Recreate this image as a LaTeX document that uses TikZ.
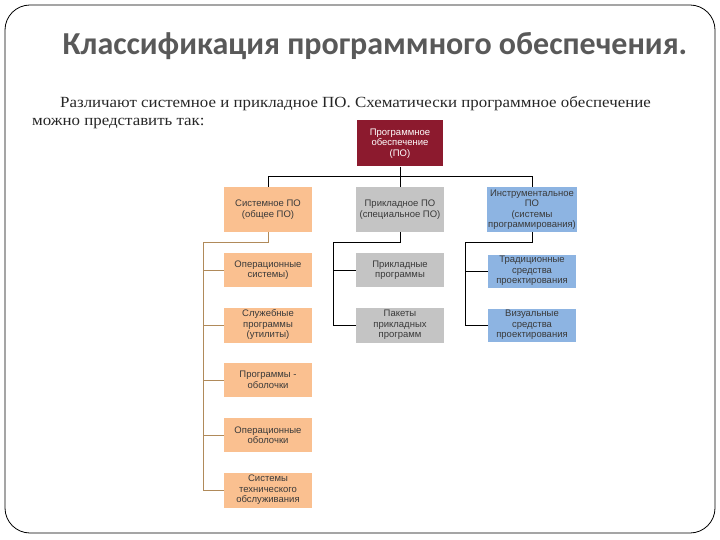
\documentclass[tikz,border=0pt]{standalone}
\usepackage{fontspec}
\setmainfont[FakeStretch=1.09]{Liberation Serif}
\newfontfamily\titlefont{Carlito}
\newfontfamily\boxfont{Liberation Sans}
\definecolor{rootred}{HTML}{8C1A2E}
\definecolor{orangebox}{HTML}{FAC090}
\definecolor{graybox}{HTML}{C4C4C4}
\definecolor{bluebox}{HTML}{8DB4E2}
\definecolor{tanline}{HTML}{B08A5A}
\definecolor{titlegray}{HTML}{595959}
\definecolor{boxtext}{HTML}{3A3A3A}
\tikzset{
  box/.style={rectangle, minimum width=88pt, inner sep=1pt, align=center,
    font=\boxfont\fontsize{9.5}{10.5}\selectfont, text=boxtext},
  rootbox/.style={box, fill=rootred, text=white, minimum height=46pt, minimum width=86pt},
  orangebx/.style={box, fill=orangebox},
  graybx/.style={box, fill=graybox},
  bluebx/.style={box, fill=bluebox},
  conn/.style={draw=black, line width=0.9pt},
  tconn/.style={draw=tanline, line width=0.9pt}
}
\begin{document}
\begin{tikzpicture}[x=1pt, y=-1pt]
\useasboundingbox (0,0) rectangle (720,540);
\draw[line width=0.8pt, rounded corners=25pt] (5,5) rectangle (715,533);

\node[font=\titlefont\bfseries\fontsize{32}{36}\selectfont, text=titlegray] (title) at (375,46) {Классификация программного обеспечения.};
\node[anchor=base west, inner sep=0pt, font=\fontsize{15.5}{18}\selectfont, text=black!85] (l1) at (60,108) {Различают системное и прикладное ПО. Схематически программное обеспечение};
\node[anchor=base west, inner sep=0pt, font=\fontsize{15.5}{18}\selectfont, text=black!85] (l2) at (32,126) {можно представить так:};

\node[rootbox] (root) at (400,143.5) {Программное\\обеспечение\\(ПО)};

\node[orangebx, minimum height=45pt] (sys) at (268,209.5) {Системное ПО\\(общее ПО)};
\node[graybx, minimum height=45pt] (app) at (400,209.5) {Прикладное ПО\\(специальное ПО)};
\node[bluebx, minimum height=45pt] (ins) at (532,209.5) {Инструментальное\\ПО\\(системы\\программирования)};

\node[orangebx, minimum height=34pt] (o1) at (268,270) {Операционные\\системы)};
\node[orangebx, minimum height=35pt] (o2) at (268,325) {Служебные\\программы\\(утилиты)};
\node[orangebx, minimum height=34pt] (o3) at (268,380) {Программы -\\оболочки};
\node[orangebx, minimum height=34pt] (o4) at (268,435) {Операционные\\оболочки};
\node[orangebx, minimum height=35pt] (o5) at (268,490) {Системы\\технического\\обслуживания};

\node[graybx, minimum height=34pt] (g1) at (400,270) {Прикладные\\программы};
\node[graybx, minimum height=35pt] (g2) at (400,325) {Пакеты\\прикладных\\программ};

\node[bluebx, minimum height=33pt] (b1) at (532,271) {Традиционные\\средства\\проектирования};
\node[bluebx, minimum height=33pt] (b2) at (532,325) {Визуальные\\средства\\проектирования};

% top level connectors
\coordinate (bar) at (400,176);
\draw[conn] (root.south) -- (bar);
\draw[conn] (sys.north) -- (sys.north |- bar) -- (ins.north |- bar) -- (ins.north);
\draw[conn] (bar) -- (app.north);

% system column
\coordinate (sv) at (203,242);
\draw[tconn] (sys.south) |- (sv) -- (sv |- o5.west) -- (o5.west);
\foreach \n in {o1,o2,o3,o4} \draw[tconn] (sv |- \n.west) -- (\n.west);

% application column
\coordinate (av) at (333,242);
\draw[conn] (app.south) |- (av) -- (av |- g2.west) -- (g2.west);
\draw[conn] (av |- g1.west) -- (g1.west);

% instrumental column
\coordinate (iv) at (465,242);
\draw[conn] (ins.south) |- (iv) -- (iv |- b2.west) -- (b2.west);
\draw[conn] (iv |- b1.west) -- (b1.west);
\end{tikzpicture}
\end{document}
